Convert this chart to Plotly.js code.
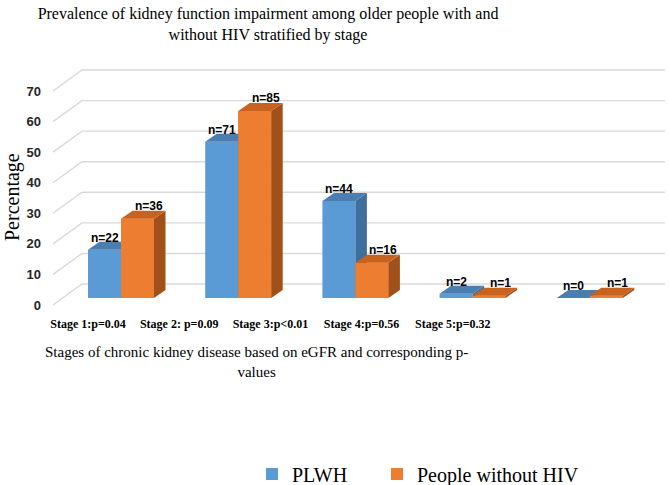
<!DOCTYPE html>
<html>
<head>
<meta charset="utf-8">
<script src="https://cdn.plot.ly/plotly-3.0.1.min.js"></script>
<style>html,body{margin:0;padding:0;background:#fff;}#chart{width:669px;height:485px;}</style>
</head>
<body>
<div id="chart"></div>
<script>
// ---- data ----
const categories = ['Stage 1:p=0.04', 'Stage 2: p=0.09', 'Stage 3:p<0.01', 'Stage 4:p=0.56', 'Stage 5:p=0.32'];
const plwh = [15.8, 51.1, 31.7, 1.4, 0];
const withoutHiv = [25.9, 61.2, 11.5, 0.7, 0.7];
const plwhN = [22, 71, 44, 2, 0];
const withoutN = [36, 85, 16, 1, 1];
const yTicks = [0, 10, 20, 30, 40, 50, 60, 70];
const seriesNames = ['PLWH', 'People without HIV'];

// ---- layout geometry (pixels) ----
const W = 669, H = 485;
const M = {l: 42, r: 0, t: 60, b: 175};
const plotL = M.l, plotR = W - M.r, plotT = M.t, plotB = H - M.b;
const catPx0 = 121, catStep = 117.2;       // bar group centres
const labPx0 = 88, labStep = 91.2;         // category label centres
const zeroPx = 298, pxPerUnit = 3.057;     // bar front plane
const wallFrontZero = 305, wallBackZero = 284;
const wallLeftFront = 53, wallLeftBack = 82, wallRight = 665;
const barPx = 33, depthDx = 11.5, depthDy = 8;

const xr = [(plotL - catPx0) / catStep, (plotR - catPx0) / catStep];
const yr = [(zeroPx - plotB) / pxPerUnit, (zeroPx - plotT) / pxPerUnit];
const xr2 = [(plotL - labPx0) / labStep, (plotR - labPx0) / labStep];
const tickShift = (wallFrontZero - zeroPx) / pxPerUnit;
const backShift = (zeroPx - wallBackZero) / pxPerUnit;
const bw = barPx / catStep, dX = depthDx / catStep, dY = depthDy / pxPerUnit;
const px2x = p => (p - catPx0) / catStep;
const pxX = p => (p - plotL) / (plotR - plotL);
const pxY = p => (plotB - p) / (plotB - plotT);

const idx = categories.map((c, i) => i);

const colors = {
  blue: {front: '#5B9BD5', top: '#4A7DB0', side: '#3F6F9C'},
  orange: {front: '#ED7D31', top: '#C8631F', side: '#A2501A'}
};

function polys(vals, x0f, kind) {
  const xs = [], ys = [];
  vals.forEach((v, i) => {
    const a = i + x0f, b = a + bw;
    let px, py;
    if (kind === 'front') { px = [a, b, b, a]; py = [0, 0, v, v]; }
    else if (kind === 'top') { px = [a, b, b + dX, a + dX]; py = [v, v, v + dY, v + dY]; }
    else { px = [b, b + dX, b + dX, b]; py = [0, dY, v + dY, v]; }
    xs.push(...px, px[0], null); ys.push(...py, py[0], null);
  });
  return {x: xs, y: ys};
}
function faceTrace(vals, x0f, kind, color) {
  const p = polys(vals, x0f, kind);
  return {type: 'scatter', mode: 'lines', x: p.x, y: p.y, fill: 'toself', fillcolor: color,
    line: {width: 0, color: color}, hoverinfo: 'skip', showlegend: false};
}

const traces = [
  {type: 'bar', name: seriesNames[0], x: idx, y: plwh, width: bw, offset: -bw, legend: 'legend',
   marker: {color: colors.blue.front, line: {width: 0}}},
  {type: 'bar', name: seriesNames[1], x: idx, y: withoutHiv, width: bw, offset: 0, legend: 'legend2',
   marker: {color: colors.orange.front, line: {width: 0}}},
  faceTrace(plwh, -bw, 'side', colors.blue.side),
  faceTrace(plwh, -bw, 'top', colors.blue.top),
  faceTrace(withoutHiv, 0, 'front', colors.orange.front),
  faceTrace(withoutHiv, 0, 'side', colors.orange.side),
  faceTrace(withoutHiv, 0, 'top', colors.orange.top),
  {type: 'scatter', x: [null], y: [null], xaxis: 'x2', yaxis: 'y2', showlegend: false, hoverinfo: 'skip'}
];

// wall gridlines
const shapes = yTicks.map(t => {
  const xa = px2x(wallLeftFront), xb = px2x(wallLeftBack), xc = px2x(wallRight);
  return {type: 'path', xref: 'x', yref: 'y', layer: 'below',
    path: `M ${xa} ${t - tickShift} L ${xb} ${t + backShift} L ${xc} ${t + backShift}`,
    line: {color: '#D9D9D9', width: 1.4}};
});

const labelFont = {family: 'Liberation Sans, Arial, sans-serif', size: 12, color: '#000', weight: 'bold'};
const serif = 'Liberation Serif, Times New Roman, serif';
const annotations = [];
idx.forEach(i => {
  annotations.push({xref: 'x', yref: 'y', x: i - bw / 2, y: plwh[i], yshift: 12, text: 'n=' + plwhN[i],
    showarrow: false, font: labelFont, xanchor: 'center', yanchor: 'middle'});
  annotations.push({xref: 'x', yref: 'y', x: i + bw / 2, y: withoutHiv[i], yshift: 13, xshift: 11,
    text: 'n=' + withoutN[i], showarrow: false, font: labelFont, xanchor: 'center', yanchor: 'middle'});
});
annotations.push({xref: 'paper', yref: 'paper', x: pxX(256), y: pxY(342),
  xanchor: 'center', yanchor: 'top', showarrow: false, align: 'center',
  text: 'Stages of chronic kidney disease based on eGFR and corresponding p-<br>values',
  font: {family: serif, size: 15, color: '#000'}});
annotations.push({xref: 'paper', yref: 'paper', x: pxX(12), y: pxY(197),
  xanchor: 'center', yanchor: 'middle', showarrow: false, textangle: -90, text: 'Percentage',
  font: {family: serif, size: 20, color: '#000'}});

const legendBase = {orientation: 'h', xanchor: 'left', yanchor: 'middle', xref: 'container', yref: 'container',
  y: (H - 474) / H, bgcolor: 'rgba(0,0,0,0)', itemwidth: 30, font: {family: serif, size: 20, color: '#000'}};

const layout = {
  width: W, height: H, margin: M, paper_bgcolor: '#fff', plot_bgcolor: '#fff',
  barmode: 'overlay', showlegend: true,
  title: {text: 'Prevalence of kidney function impairment among older people with and<br>without HIV stratified by stage',
    x: 268 / W, xanchor: 'center', y: 1 - 19 / H, yanchor: 'top', yref: 'container',
    font: {family: serif, size: 16, color: '#000'}},
  xaxis: {range: xr, showgrid: false, zeroline: false, showticklabels: false, showline: false, fixedrange: true},
  yaxis: {range: yr, showgrid: false, zeroline: false, showticklabels: false, showline: false, fixedrange: true},
  xaxis2: {overlaying: 'x', anchor: 'y', side: 'bottom', range: xr2, tickvals: idx, ticktext: categories,
    showgrid: false, zeroline: false, showline: false, ticks: 'outside', ticklen: 3, tickcolor: 'rgba(0,0,0,0)',
    tickfont: {family: serif, size: 12, color: '#000', weight: 'bold'}},
  yaxis2: {overlaying: 'y', anchor: 'x', side: 'left', range: [yr[0] + tickShift, yr[1] + tickShift],
    tickvals: yTicks, showgrid: false, zeroline: false, showline: false, ticks: '',
    tickfont: {family: 'Liberation Sans, Arial, sans-serif', size: 13, color: '#262626', weight: 'bold'}},
  legend: Object.assign({}, legendBase, {x: 252 / W}),
  legend2: Object.assign({}, legendBase, {x: 377 / W}),
  shapes: shapes, annotations: annotations
};

Plotly.newPlot('chart', traces, layout, {displayModeBar: false, staticPlot: true});
</script>
</body>
</html>
